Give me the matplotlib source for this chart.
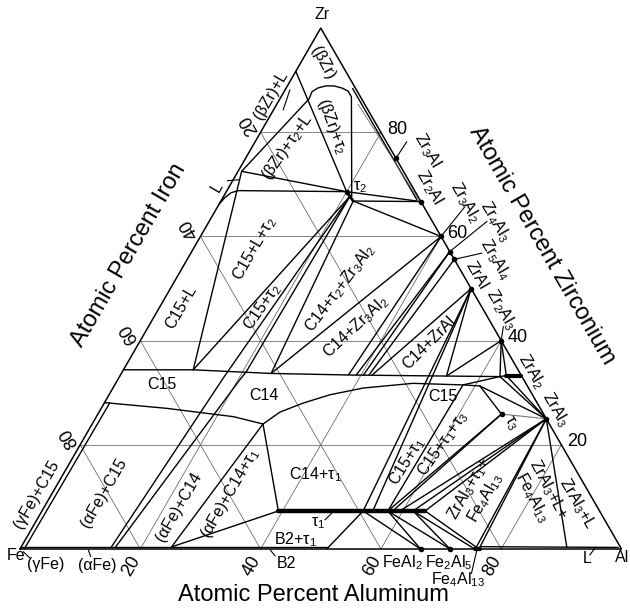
import matplotlib
matplotlib.use("Agg")
import matplotlib.pyplot as plt
from matplotlib.transforms import Affine2D, offset_copy

plt.rcParams['font.family'] = ['Liberation Sans', 'DejaVu Sans']
plt.rcParams['mathtext.fontset'] = 'custom'
plt.rcParams['mathtext.rm'] = 'Liberation Sans'
plt.rcParams['mathtext.it'] = 'Liberation Sans:italic'
plt.rcParams['mathtext.bf'] = 'Liberation Sans:bold'

# ---------------------------------------------------------------- data
# every point is (at.% Al, at.% Zr); Fe is the balance
TICKS = [20, 40, 60, 80]

T2A, T2B = (20.0, 68.6), (22.0, 66.8)
T2M = (21.0, 67.7)
T3 = (67.1, 25.9)
ZR3AL, ZR2AL, ZR3AL2 = (25.0, 75.0), (33.3, 66.7), (40.0, 60.0)
ZR4AL3, ZR5AL4, ZRAL = (42.9, 57.1), (44.4, 55.6), (50.0, 50.0)
ZR2AL3, ZRAL2, ZRAL3 = (60.0, 40.0), (66.7, 33.3), (75.0, 25.0)
FEAL2, FE2AL5, FE4AL13 = (66.6, 0.0), (71.5, 0.0), (76.0, 0.0)

LPT = (0.6, 72.5)          # Zr-rich liquid corner
C15_TOP = (11.6, 34.4)
C14_TOP = (24.9, 33.7)
C14_LOW = (28.4, 24.0)
AFE_C14 = (25.0, 0.4)
TAU1_ZR = 7.3
TAU1_AL = [39.3, 53.4, 55.0, 57.5, 59.5, 61.7, 63.7]
C15R_A, C15R_B = (57.9, 31.5), (60.8, 31.3)
H1_END = (63.25, 33.1)
ZRAL2_LOW = (64.2, 33.3)

def t1(al):
    return (al, TAU1_ZR)

dome = [LPT, (4.85, 86.4), (4.65, 87.8), (5.27, 88.5), (6.41, 88.9), (7.74, 88.9),
        (9.26, 88.5), (10.6, 87.9), (11.7, 86.8), (21.3, 67.7)]
beta_liq = [(0.0, 91.7), T2A]
liq_curve = [(0.0, 66.2), (0.35, 67.5), (0.9, 68.4), (1.9, 68.8), T2A]
zr_side = [(11.1, 88.4), (32.4, 67.1)]
zr_side2 = [(13.5, 85.4), (32.9, 66.9)]

laves_top = [(0.0, 34.4), C15_TOP, C14_TOP, (38.2, 33.4), (54.3, 33.2), H1_END, ZRAL2_LOW]
laves_low_left = [(0.0, 28.1), (10.9, 27.0), (22.8, 25.4), C14_LOW]
laves_low_right = [C14_LOW, (30.1, 26.3), (33.05, 28.0), (36.7, 29.6), (41.6, 30.9),
                   (49.4, 31.8), C15R_A, C15R_B]
gamma_fe = [(0.7, 0.0), (0.9, 28.1)]
c15_c14_a = [(15.0, 0.4), (17.4, 33.0), T2M]
c15_c14_b = [(15.7, 0.4), (20.3, 32.5), (20.6, 34.0), T2M]

segments = [
    [LPT, T2A], [LPT, C15_TOP], [C15_TOP, T2M], [C14_TOP, T2B],
    [T2B, ZR2AL], [T2A, ZR2AL], [T2B, ZR3AL2],
    [ZR3AL2, C14_TOP], [ZR3AL2, (37.9, 33.4)], [ZR4AL3, (39.2, 33.4)],
    [ZR4AL3, (40.4, 33.4)], [ZR5AL4, (41.3, 33.3)], [ZRAL, (41.8, 33.3)],
    [ZRAL, (54.3, 33.2)], [ZR2AL3, (54.3, 33.2)], [ZR2AL3, H1_END], [ZR2AL3, ZRAL2_LOW],
    [ZRAL, t1(53.4)], [ZRAL, t1(55.0)],
    [AFE_C14, C14_LOW], [AFE_C14, t1(39.3)], [C14_LOW, t1(39.3)],
    [t1(53.4), (51.0, 0.0)], [t1(53.4), FEAL2], [t1(57.5), FEAL2], [t1(57.5), FE2AL5],
    [t1(61.7), FE2AL5], [t1(61.7), (75.6, 0.0)], [t1(63.7), (76.3, 0.0)],
    [C15R_A, t1(57.5)], [T3, t1(57.5)], [T3, t1(58.3)], [C15R_B, T3], [C15R_B, ZRAL3],
    [H1_END, ZRAL3], [ZRAL2_LOW, ZRAL3], [C15R_A, H1_END],
    [ZRAL3, t1(59.5)], [ZRAL3, t1(61.7)], [ZRAL3, t1(63.7)],
    [ZRAL3, (75.7, 0.0)], [ZRAL3, (76.3, 0.0)], [ZRAL3, (90.7, 0.4)],
    [(76.3, 0.45), (99.3, 0.3)], [(0.0, 0.35), (51.0, 0.35)],
]
thin_segments = [[T3, ZRAL3]]

leaders = [
    [(1.6, 84.3), (0.8, 88.15)], [(-0.9, 70.7), (1.1, 70.9)],
    [ZR3AL, (25.2, 78.2)], [ZR3AL2, (41.1, 65.7)], [ZR4AL3, (46.2, 62.9)],
    [ZR5AL4, (48.4, 56.8)], [ZR2AL3, (59.0, 42.7)], [(76.0, 0.0), (77.4, -4.7)],
    [(0.81, -0.52), (2.5, -1.73)], [(11.45, -0.19), (12.5, -1.48)],
    [(41.7, -0.19), (43.1, -1.34)], [(95.3, -1.15), (95.5, 0.13)],
    [(47.9, 5.6), (48.4, 6.9)],
]
dots = [T2A, ZR3AL, ZR2AL, ZR3AL2, ZR4AL3, ZR5AL4, ZRAL, ZR2AL3, ZRAL3, T3, FEAL2, FE2AL5]

# (text, Al, Zr, rotation)
phase_labels = [
    ('(βZr)', 3.7, 93.3, -62), ('(βZr)+L', -1.9, 87.2, 60),
    ('(βZr)+τ$_2$', 11.3, 81.1, -70), ('(βZr)+τ$_2$+L', 5.8, 77.2, 55),
    ('C15+L+τ$_2$', 10.2, 57.7, 60), ('C15+L', 3.6, 46.5, 60),
    ('C15+τ$_2$', 17.05, 46.5, 55), ('C14+τ$_2$+Zr$_3$Al$_2$', 28.2, 50.1, 53),
    ('C14+Zr$_3$Al$_2$', 34.5, 42.6, 43), ('C14+ZrAl', 48.2, 39.5, 45),
    ('C15', 7.9, 31.5, 0), ('C14', 25.9, 29.4, 0), ('C15', 55.7, 29.25, 0),
    ('(γFe)+C15', -2.4, 10.4, 60), ('(αFe)+C15', 8.5, 10.7, 60),
    ('(αFe)+C14', 22.3, 8.1, 60), ('(αFe)+C14+τ$_1$', 29.6, 10.7, 60),
    ('C14+τ$_1$', 42.0, 14.2, 0), ('τ$_1$', 47.0, 5.0, 0), ('B2+τ$_1$', 44.9, 1.8, 0),
    ('C15+τ$_1$', 55.9, 16.8, 58), ('C15+τ$_1$+τ$_3$', 60.2, 20.3, 55),
    ('ZrAl$_3$+τ$_1$+\nFe$_4$Al$_{13}$', 70.6, 10.7, 60),
    ('ZrAl$_3$+L+\nFe$_4$Al$_{13}$', 81.1, 10.7, -62), ('ZrAl$_3$+L', 88.2, 8.8, -60),
    ('τ$_2$', 21.8, 69.4, 0), ('τ$_3$', 69.4, 24.1, -60), ('L', -2.1, 69.6, 60),
]
compound_labels = [
    ('Zr$_3$Al', 29.5, 76.6), ('Zr$_2$Al', 33.25, 69.5), ('Zr$_3$Al$_2$', 40.7, 66.6),
    ('Zr$_4$Al$_3$', 47.6, 62.8), ('Zr$_5$Al$_4$', 51.2, 55.5), ('ZrAl', 49.7, 52.6),
    ('Zr$_2$Al$_3$', 57.0, 45.9), ('ZrAl$_2$', 67.95, 34.0), ('ZrAl$_3$', 75.6, 26.7),
]
base_labels = [
    ('Fe', 0.0, -1.3), ('Al', 100.9, -1.6), ('Zr', -1.1, 102.6),
    ('(γFe)', 5.75, -2.9), ('(αFe)', 14.4, -3.1), ('B2', 45.6, -2.75),
    ('FeAl$_2$', 64.9, -2.7), ('Fe$_2$Al$_5$', 72.6, -2.7), ('Fe$_4$Al$_{13}$', 75.7, -5.95),
    ('L', 95.2, -1.9),
]

# ---------------------------------------------------------------- figure
fig = plt.figure(figsize=(6.30, 6.16), dpi=100)
ax = fig.add_axes([0, 0, 1, 1])
ax.set_xlim(0, 630)
ax.set_ylim(616, 0)
ax.axis('off')

SIDE = 601.5
tern = Affine2D.from_values(SIDE / 100, 0, SIDE / 200, -SIDE * 0.8660254 / 100,
                            20.0, 549.0) + ax.transData


def draw(pts, lw=1.0, color='black', z=2):
    xs, ys = zip(*pts)
    ax.plot(xs, ys, color=color, lw=lw, transform=tern, zorder=z,
            solid_capstyle='round', solid_joinstyle='round')


# composition grid
for v in TICKS:
    for pts in ([(0, v), (100 - v, v)], [(v, 0), (v, 100 - v)], [(100 - v, 0), (0, 100 - v)]):
        draw(pts, lw=0.5, color='#555555', z=1)

# triangle
draw([(0, 0), (100, 0), (0, 100), (0, 0)], lw=1.1)

for pts in [dome, beta_liq, liq_curve, zr_side, laves_top, laves_low_left,
            laves_low_right, gamma_fe, c15_c14_a, c15_c14_b] + segments:
    draw(pts, lw=1.0)
draw(zr_side2, lw=0.6, color='#666666')
for pts in thin_segments:
    draw(pts, lw=0.8, color='#777777')
for pts in leaders:
    draw(pts, lw=0.8)

draw([t1(TAU1_AL[0]), t1(TAU1_AL[-1])], lw=3.2, z=3)
draw([T2A, T2B], lw=2.0, z=3)
draw([ZRAL2_LOW, ZRAL2], lw=3.0, z=3)
draw([(75.6, 0.0), (76.4, 0.0)], lw=3.0, z=3)

xs, ys = zip(*dots)
ax.plot(xs, ys, 'o', ms=3, color='black', transform=tern, zorder=4)

for s, a, zr, rot in phase_labels:
    ax.text(a, zr, s, transform=tern, rotation=rot, rotation_mode='anchor',
            ha='center', va='center', fontsize=11.5, linespacing=1.0, zorder=5)
for s, a, zr in compound_labels:
    ax.text(a, zr, s, transform=tern, rotation=-60, rotation_mode='anchor',
            ha='center', va='center', fontsize=11.5, zorder=5)
for s, a, zr in base_labels:
    ax.text(a, zr, s, transform=tern, ha='center', va='center', fontsize=11.5, zorder=5)

# axis ticks
right_off = offset_copy(tern, fig=fig, x=16, y=3, units='dots')
left_off = offset_copy(tern, fig=fig, x=-11, y=7.5, units='dots')
bottom_off = offset_copy(tern, fig=fig, x=-9, y=-17, units='dots')
for v in TICKS:
    ax.text(100 - v, v, str(v), transform=right_off, ha='center', va='center', fontsize=13)
    ax.text(0, 100 - v, str(v), transform=left_off, ha='center', va='center',
            fontsize=13, rotation=120, rotation_mode='anchor')
    ax.text(v, 0, str(v), transform=bottom_off, ha='center', va='center',
            fontsize=13, rotation=60, rotation_mode='anchor')

ax.text(313, 595, 'Atomic Percent Aluminum', ha='center', va='center', fontsize=17)
ax.text(129, 255, 'Atomic Percent Iron', ha='center', va='center', fontsize=17,
        rotation=60, rotation_mode='anchor')
ax.text(542, 245, 'Atomic Percent Zirconium', ha='center', va='center', fontsize=17,
        rotation=-60, rotation_mode='anchor')

fig.savefig('out.png', dpi=100)
